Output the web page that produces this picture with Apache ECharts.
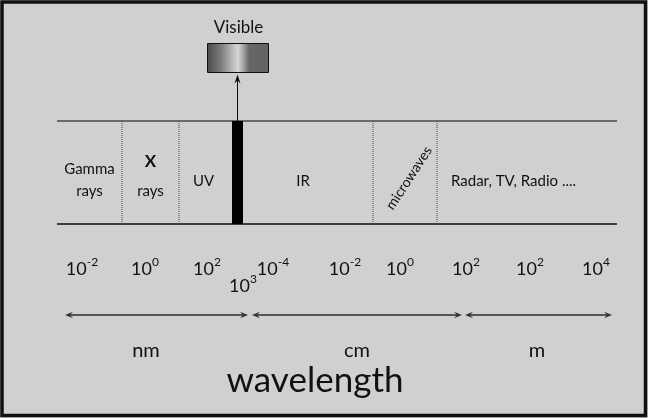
<!DOCTYPE html>
<html>
<head>
<meta charset="utf-8">
<script src="https://cdn.jsdelivr.net/npm/echarts@6/dist/echarts.min.js"></script>
<style>
html,body{margin:0;padding:0;background:#d0d0d0;}
#chart{width:648px;height:418px;}
</style>
</head>
<body>
<div id="chart"></div>
<script>
// ---- data (positions along the diagram's horizontal wavelength scale) ----
const bandNames = ['Gamma\nrays', 'X\nrays', 'UV', '', 'IR', 'microwaves', 'Radar, TV, Radio ....'];
const bandEdges = [57, 122, 179, 232, 243, 373, 437, 617];
const visibleLabel = 'Visible';
const tickBases = ['10', '10', '10', '10', '10', '10', '10', '10', '10', '10'];
const tickExps = ['-2', '0', '2', '3', '-4', '-2', '0', '2', '2', '4'];
const tickPos = [82, 145, 207, 243, 273, 345, 400, 466, 530, 596];
const unitNames = ['nm', 'cm', 'm'];
const unitStart = [65, 252, 465];
const unitEnd = [248, 462, 612];
const axisTitle = 'wavelength';

const FONT = 'Lato, "Open Sans", sans-serif';
const BAND_TOP = 121, BAND_BOTTOM = 224;

const chart = echarts.init(document.getElementById('chart'), null, {renderer: 'canvas'});

function headPoly(tipX, tipY, dir) {
  const L = 8, W = 3.2, N = 5;
  return [[tipX, tipY], [tipX - dir * L, tipY - W], [tipX - dir * N, tipY], [tipX - dir * L, tipY + W]];
}

const bandSeries = {
  type: 'custom',
  coordinateSystem: 'cartesian2d',
  silent: true,
  data: bandNames.map((n, i) => [bandEdges[i], bandEdges[i + 1], i]),
  renderItem: function (params, api) {
    const i = api.value(2);
    const x0 = api.coord([api.value(0), BAND_TOP]);
    const x1 = api.coord([api.value(1), BAND_BOTTOM]);
    const name = bandNames[i];
    const children = [];
    const cx = (x0[0] + x1[0]) / 2;
    const midY = 181;
    if (name === '') {
      children.push({type: 'rect', shape: {x: x0[0], y: x0[1], width: x1[0] - x0[0], height: x1[1] - x0[1]}, style: {fill: '#000'}});
    } else {
      const prevVisible = i > 0 && bandNames[i - 1] === '';
      if (i > 0 && !prevVisible) {
        children.push({type: 'line', shape: {x1: x0[0], y1: x0[1], x2: x0[0], y2: x1[1]}, style: {stroke: '#444', lineWidth: 1, lineDash: [1, 1]}});
      }
      if (name === 'microwaves') {
        children.push({type: 'text', x: cx + 4, y: 178, rotation: 57 * Math.PI / 180,
          style: {text: name, font: '14px ' + FONT, fill: '#111', align: 'center', verticalAlign: 'middle'}});
      } else if (name.indexOf('\n') >= 0) {
        const parts = name.split('\n');
        const big = parts[0] === 'X';
        children.push({type: 'text', x: cx, y: big ? 162 : 169,
          style: {text: parts[0], font: (big ? 'bold 17px ' : '15px ') + FONT, fill: '#111', align: 'center', verticalAlign: 'middle'}});
        children.push({type: 'text', x: cx, y: 191,
          style: {text: parts[1], font: '15px ' + FONT, fill: '#111', align: 'center', verticalAlign: 'middle'}});
      } else if (i === bandNames.length - 1) {
        children.push({type: 'text', x: x0[0] + 14, y: midY,
          style: {text: name, font: '15px ' + FONT, fill: '#111', align: 'left', verticalAlign: 'middle'}});
      } else {
        children.push({type: 'text', x: cx - (name === 'IR' ? 5 : 2), y: midY,
          style: {text: name, font: '15px ' + FONT, fill: '#111', align: 'center', verticalAlign: 'middle'}});
      }
    }
    return {type: 'group', children: children};
  }
};

const frameSeries = {
  type: 'custom',
  coordinateSystem: 'cartesian2d',
  silent: true,
  data: [[bandEdges[0], bandEdges[bandEdges.length - 1]]],
  renderItem: function (params, api) {
    const a = api.coord([api.value(0), BAND_TOP]);
    const b = api.coord([api.value(1), BAND_BOTTOM]);
    return {type: 'group', children: [
      {type: 'line', shape: {x1: a[0], y1: a[1], x2: b[0], y2: a[1]}, style: {stroke: '#6a6a6a', lineWidth: 2}},
      {type: 'line', shape: {x1: a[0], y1: b[1], x2: b[0], y2: b[1]}, style: {stroke: '#111', lineWidth: 1.5}}
    ]};
  }
};

const visibleSeries = {
  type: 'custom',
  coordinateSystem: 'cartesian2d',
  silent: true,
  z: 5,
  data: [[(bandEdges[3] + bandEdges[4]) / 2]],
  renderItem: function (params, api) {
    const c = api.coord([api.value(0), BAND_TOP]);
    const x = c[0];
    const boxW = 61, boxTop = 43.5, boxH = 29;
    return {type: 'group', children: [
      {type: 'rect', shape: {x: x - boxW / 2 + 0.5, y: boxTop, width: boxW, height: boxH},
        style: {stroke: '#111', lineWidth: 1,
          fill: new echarts.graphic.LinearGradient(0, 0, 1, 0, [
            {offset: 0, color: '#4b4b4b'},
            {offset: 0.22, color: '#7a7a7a'},
            {offset: 0.42, color: '#bdbdbd'},
            {offset: 0.5, color: '#d6d6d6'},
            {offset: 0.58, color: '#a8a8a8'},
            {offset: 0.68, color: '#666'},
            {offset: 1, color: '#636363'}
          ])}},
      {type: 'line', shape: {x1: x, y1: c[1], x2: x, y2: boxTop + boxH + 4}, style: {stroke: '#111', lineWidth: 1}},
      {type: 'polygon', shape: {points: [[x, boxTop + boxH + 2], [x - 3, boxTop + boxH + 11], [x, boxTop + boxH + 8], [x + 3, boxTop + boxH + 11]]}, style: {fill: '#111'}},
      {type: 'text', x: x + 1, y: 28, style: {text: visibleLabel, font: '17px ' + FONT, fill: '#111', align: 'center', verticalAlign: 'middle'}}
    ]};
  }
};

const tickSeries = {
  type: 'custom',
  coordinateSystem: 'cartesian2d',
  silent: true,
  data: tickPos.map((p, i) => [p, i]),
  renderItem: function (params, api) {
    const i = api.value(1);
    const lower = tickExps[i] === '3' && i === 3;
    const c = api.coord([api.value(0), lower ? 284 : 267]);
    return {type: 'text', x: c[0], y: c[1], style: {
      text: '{b|' + tickBases[i] + '}{s|' + tickExps[i] + '}',
      align: 'center', verticalAlign: 'middle',
      rich: {
        b: {font: '18px ' + FONT, fill: '#111', lineHeight: 22, verticalAlign: 'bottom'},
        s: {font: '12px ' + FONT, fill: '#111', lineHeight: 14, verticalAlign: 'top'}
      }
    }};
  }
};

const unitSeries = {
  type: 'custom',
  coordinateSystem: 'cartesian2d',
  silent: true,
  data: unitNames.map((n, i) => [unitStart[i], unitEnd[i], i]),
  renderItem: function (params, api) {
    const i = api.value(2);
    const a = api.coord([api.value(0), 315]);
    const b = api.coord([api.value(1), 315]);
    const col = '#555';
    return {type: 'group', children: [
      {type: 'line', shape: {x1: a[0] + 3, y1: a[1], x2: b[0] - 3, y2: b[1]}, style: {stroke: col, lineWidth: 2}},
      {type: 'polygon', shape: {points: headPoly(a[0], a[1], -1)}, style: {fill: '#333'}},
      {type: 'polygon', shape: {points: headPoly(b[0], b[1], 1)}, style: {fill: '#333'}},
      {type: 'text', x: [146, 357, 537][i], y: 351, style: {text: unitNames[i], font: '20px ' + FONT, fill: '#111', align: 'center', verticalAlign: 'middle'}}
    ]};
  }
};

chart.setOption({
  backgroundColor: '#d0d0d0',
  animation: false,
  grid: {left: 0, right: 0, top: 0, bottom: 0},
  xAxis: {type: 'value', min: 0, max: 648, show: false},
  yAxis: {type: 'value', min: 0, max: 418, inverse: true, show: false},
  graphic: [
    {type: 'rect', z: 100, silent: true, shape: {x: 2, y: 2, width: 643.5, height: 413.5}, style: {fill: 'none', stroke: '#111', lineWidth: 3.5}},
    {type: 'text', z: 100, silent: true, x: 315, y: 381, style: {text: axisTitle, font: '35px ' + FONT, fill: '#111', align: 'center', verticalAlign: 'middle'}}
  ],
  series: [frameSeries, bandSeries, visibleSeries, tickSeries, unitSeries]
});
</script>
</body>
</html>
